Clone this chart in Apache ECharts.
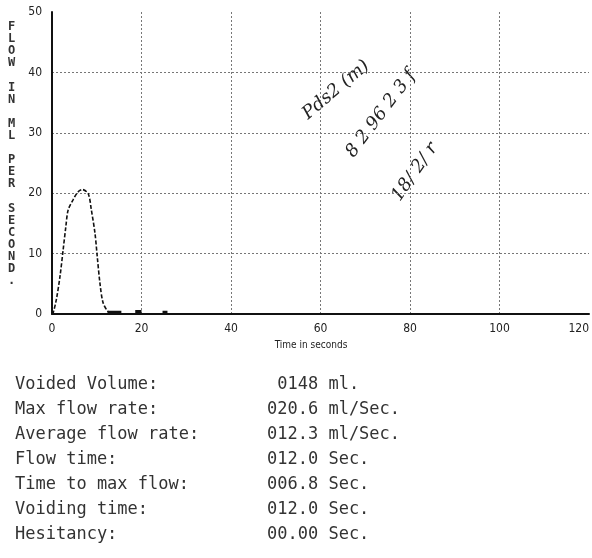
<!DOCTYPE html>
<html>
<head>
<meta charset="utf-8">
<script src="https://cdn.jsdelivr.net/npm/echarts@6/dist/echarts.min.js"></script>
<style>html,body{margin:0;padding:0;background:#fff;}#c{width:592px;height:558px;}</style>
</head>
<body>
<div id="c"></div>
<script>
// Flow curve (time in s, flow in ml/s)
var timeS = [0, 0.3, 1.0, 1.8, 2.5, 3.1, 3.6, 4.7, 5.8, 6.8, 8.1, 8.8, 9.6, 10.1, 10.7, 11.4, 12.5, 13.3];
var flowMl = [0, 0.3, 2.5, 6.3, 10.7, 14.5, 17.2, 18.9, 20.2, 20.6, 19.9, 17.2, 13.4, 9.6, 5.2, 1.9, 0.4, 0.2];
// small residual traces along the baseline
var residualStart = [12.4, 18.6, 24.7];
var residualEnd = [15.5, 20.0, 25.8];
var residualFlow = [0.3, 0.4, 0.3];
var xTicks = [0, 20, 40, 60, 80, 100, 120];
var yTicks = [0, 10, 20, 30, 40, 50];
var yAxisTitle = 'FLOW IN ML PER SECOND.';
var xAxisTitle = 'Time in seconds';
var statLabels = ['Voided Volume:', 'Max flow rate:', 'Average flow rate:', 'Flow time:', 'Time to max flow:', 'Voiding time:', 'Hesitancy:'];
var statValues = [' 0148 ml.', '020.6 ml/Sec.', '012.3 ml/Sec.', '012.0 Sec.', '006.8 Sec.', '012.0 Sec.', '00.00 Sec.'];
var notes = ['Pds2 (m)', '8 2 96 2 3 f', '18/ 2/ r'];

var chart = echarts.init(document.getElementById('c'), null, {renderer: 'canvas'});

var series = [{
  type: 'line',
  data: timeS.map(function (t, i) { return [t, flowMl[i]]; }),
  smooth: 0.3,
  symbol: 'none',
  lineStyle: {color: '#111', width: 1.6, type: [4, 2]},
  z: 5
}];
residualStart.forEach(function (s, i) {
  series.push({
    type: 'line',
    data: [[s, residualFlow[i]], [residualEnd[i], residualFlow[i]]],
    symbol: 'none',
    lineStyle: {color: '#111', width: 3},
    z: 6
  });
});

var graphics = [];
graphics.push({
  type: 'text', left: 8, top: 21,
  style: {
    text: yAxisTitle.split('').join('\n'),
    font: 'bold 12px "DejaVu Sans Mono"',
    lineHeight: 12.1,
    fill: '#333',
    align: 'center'
  }
});
graphics.push({
  type: 'text', x: 311, y: 345,
  style: {text: xAxisTitle, font: '10px "DejaVu Sans Condensed"', fill: '#222', align: 'center', verticalAlign: 'middle'}
});
statLabels.forEach(function (lab, i) {
  var y = 385 + i * 25;
  graphics.push({
    type: 'text', x: 15, y: y,
    style: {text: lab, font: '17px "DejaVu Sans Mono"', fill: '#333', verticalAlign: 'middle'}
  });
  graphics.push({
    type: 'text', x: 267, y: y,
    style: {text: statValues[i], font: '17px "DejaVu Sans Mono"', fill: '#333', verticalAlign: 'middle'}
  });
});
var notePos = [[336, 90, 40], [381, 114, 53], [415, 172, 55]];
notes.forEach(function (n, i) {
  graphics.push({
    type: 'text', x: notePos[i][0], y: notePos[i][1],
    rotation: notePos[i][2] * Math.PI / 180,
    style: {text: n, font: 'italic 18px "DejaVu Serif"', fill: '#222', align: 'center', verticalAlign: 'middle'}
  });
});

chart.setOption({
  animation: false,
  backgroundColor: '#fff',
  grid: {left: 52, right: 0, top: 12, bottom: 244, containLabel: false},
  xAxis: {
    type: 'value', min: 0, max: 120, interval: 20,
    axisLine: {show: true, onZero: false, lineStyle: {color: '#111', width: 2}},
    axisTick: {show: false},
    axisLabel: {
      color: '#222', fontSize: 12, fontFamily: 'DejaVu Sans Condensed', margin: 9,
      alignMaxLabel: 'right',
      formatter: function (v) { return xTicks.indexOf(v) >= 0 ? String(v) : ''; }
    },
    splitLine: {show: true, showMinLine: false, showMaxLine: false, lineStyle: {color: '#777', type: [2, 2], width: 1}}
  },
  yAxis: {
    type: 'value', min: 0, max: 50, interval: 10,
    axisLine: {show: true, onZero: false, lineStyle: {color: '#111', width: 2}},
    axisTick: {show: false},
    axisLabel: {
      color: '#222', fontSize: 12, fontFamily: 'DejaVu Sans Condensed', margin: 10,
      formatter: function (v) { return yTicks.indexOf(v) >= 0 ? String(v) : ''; }
    },
    splitLine: {show: true, showMinLine: false, showMaxLine: false, lineStyle: {color: '#777', type: [2, 2], width: 1}}
  },
  series: series,
  graphic: graphics
});
</script>
</body>
</html>
